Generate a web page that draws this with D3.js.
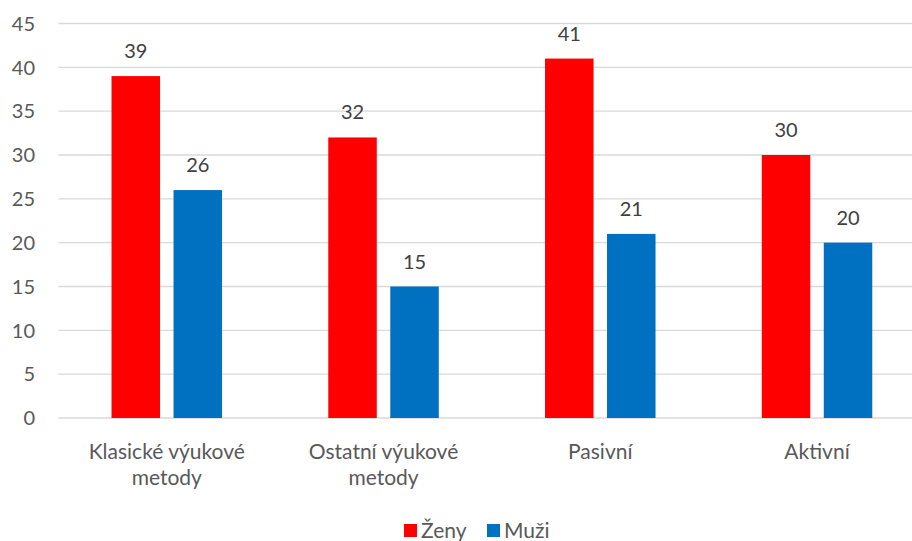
<!DOCTYPE html>
<html>
<head>
<meta charset="utf-8">
<script src="https://cdn.jsdelivr.net/npm/d3@7"></script>
<style>
  body { margin: 0; background: #fff; }
  svg { display: block; font-family: Lato, "Open Sans", sans-serif; }
</style>
</head>
<body>
<div id="chart"></div>
<script>
/* categories, two lines each where the label wraps */
const categories = [["Klasické výukové", "metody"], ["Ostatní výukové", "metody"], ["Pasivní"], ["Aktivní"]];
const seriesNames = ["Ženy", "Muži"];
const zenyValues = [39, 32, 41, 30];
const muziValues = [26, 15, 21, 20];
const yTicks = [0, 5, 10, 15, 20, 25, 30, 35, 40, 45];

const width = 912, height = 541;
const colors = ["#ff0000", "#0070c0"];

const svg = d3.select("#chart").append("svg")
  .attr("width", width)
  .attr("height", height);

/* plot area runs past the right edge, as in the original */
const x = d3.scaleBand()
  .domain(d3.range(categories.length))
  .range([58.4, 925.4]);

const y = d3.scaleLinear()
  .domain([0, 45])
  .range([418, 23.5]);

const barWidth = 48.5, barGap = 13.5;

// gridlines
svg.append("g").selectAll("line")
  .data(yTicks)
  .join("line")
    .attr("x1", 58.4)
    .attr("x2", width)
    .attr("y1", d => y(d))
    .attr("y2", d => y(d))
    .attr("stroke", "#d9d9d9")
    .attr("stroke-width", 1.3);

// y tick labels
svg.append("g").selectAll("text")
  .data(yTicks)
  .join("text")
    .attr("x", 35)
    .attr("y", d => y(d))
    .attr("dy", "0.36em")
    .attr("text-anchor", "end")
    .attr("font-size", 20)
    .attr("fill", "#595959")
    .text(d => d);

const series = [zenyValues, muziValues];

series.forEach((values, s) => {
  const offset = s === 0 ? -(barGap / 2 + barWidth) : barGap / 2;
  const g = svg.append("g");
  g.selectAll("rect")
    .data(values)
    .join("rect")
      .attr("x", (d, i) => x(i) + x.bandwidth() / 2 + offset)
      .attr("y", d => y(d))
      .attr("width", barWidth)
      .attr("height", d => y(0) - y(d))
      .attr("fill", colors[s]);
  g.selectAll("text")
    .data(values)
    .join("text")
      .attr("x", (d, i) => x(i) + x.bandwidth() / 2 + offset + barWidth / 2)
      .attr("y", d => y(d) - 18)
      .attr("text-anchor", "middle")
      .attr("font-size", 20)
      .attr("fill", "#404040")
      .text(d => d);
});

// category labels
svg.append("g").selectAll("text")
  .data(categories)
  .join("text")
    .attr("x", (d, i) => x(i) + x.bandwidth() / 2)
    .attr("y", 459)
    .attr("text-anchor", "middle")
    .attr("font-size", 21)
    .attr("fill", "#595959")
    .each(function(lines) {
      d3.select(this).selectAll("tspan")
        .data(lines)
        .join("tspan")
          .attr("x", d3.select(this).attr("x"))
          .attr("dy", (d, j) => j === 0 ? 0 : 26)
          .text(d => d);
    });

// legend
const legend = svg.append("g");
const legendX = [404, 487];
seriesNames.forEach((name, s) => {
  legend.append("rect")
    .attr("x", legendX[s])
    .attr("y", 524)
    .attr("width", 13)
    .attr("height", 13)
    .attr("fill", colors[s]);
  legend.append("text")
    .attr("x", legendX[s] + 17)
    .attr("y", 538)
    .attr("font-size", 21)
    .attr("fill", "#595959")
    .text(name);
});
</script>
</body>
</html>
